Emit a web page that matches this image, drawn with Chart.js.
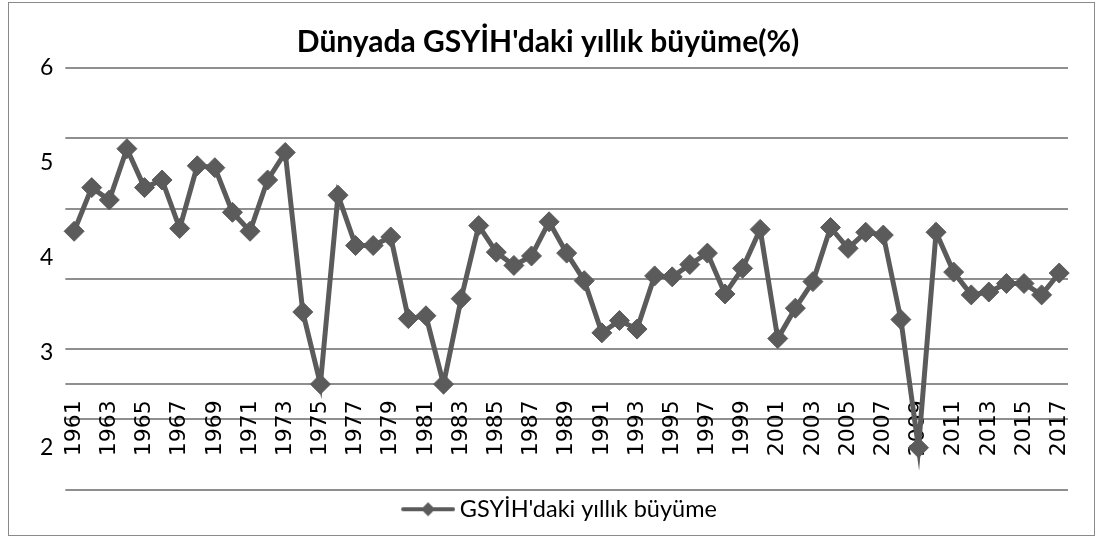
<!DOCTYPE html>
<html>
<head>
<meta charset="utf-8">
<script src="https://cdn.jsdelivr.net/npm/chart.js@4/dist/chart.umd.min.js"></script>
<style>
  body { margin: 0; background: #fff; }
  #wrap { position: relative; width: 1096px; height: 536px; }
  #frame { position: absolute; left: 8px; top: 2px; width: 1085px; height: 532px; border: 1px solid #8a8a8a; pointer-events: none; }
</style>
</head>
<body>
<div id="wrap">
  <canvas id="grafik"></canvas>
  <div id="frame"></div>
</div>
<script>
// yillar ve buyume degerleri
const yillar = [];
for (let y = 1961; y <= 2017; y++) yillar.push(String(y));

const buyume = [
  4.28, 4.74, 4.61, 5.15, 4.74, 4.82, 4.31, 4.97, 4.95, 4.48,
  4.28, 4.82, 5.11, 3.43, 2.67, 4.66, 4.13, 4.13, 4.22, 3.36,
  3.39, 2.67, 3.57, 4.34, 4.06, 3.92, 4.02, 4.38, 4.05, 3.76,
  3.21, 3.34, 3.25, 3.81, 3.80, 3.93, 4.05, 3.62, 3.89, 4.30,
  3.15, 3.47, 3.75, 4.32, 4.10, 4.27, 4.24, 3.35, 2.00, 4.27,
  3.85, 3.61, 3.64, 3.73, 3.73, 3.61, 3.84
];

const yEtiketleri = [6, 5, 4, 3, 2];
const cizgiDegerleri = [8, 7, 6, 5, 4, 3.5, 3, 2];

const gri = '#5b5b5b';

// lejant simgesi: cizgi + elmas (sol tarafi bos, simge saga yasli)
const simge = document.createElement('canvas');
simge.width = 83;
simge.height = 20;
const sc = simge.getContext('2d');
sc.strokeStyle = gri;
sc.lineWidth = 4;
sc.lineCap = 'round';
sc.beginPath();
sc.moveTo(31, 10);
sc.lineTo(81, 10);
sc.stroke();
sc.fillStyle = gri;
sc.beginPath();
sc.moveTo(56, 3);
sc.lineTo(63, 10);
sc.lineTo(56, 17);
sc.lineTo(49, 10);
sc.closePath();
sc.fill();

const ctx = document.getElementById('grafik').getContext('2d');
new Chart(ctx, {
  type: 'line',
  data: {
    labels: yillar,
    datasets: [{
      label: "GSYİH'daki yıllık büyüme",
      data: buyume,
      yAxisID: 'y',
      borderColor: gri,
      backgroundColor: gri,
      borderWidth: 5,
      pointStyle: 'rectRot',
      pointRadius: 10,
      pointBorderWidth: 1,
      pointBackgroundColor: gri,
      pointBorderColor: gri,
      tension: 0
    }]
  },
  options: {
    responsive: true,
    maintainAspectRatio: false,
    animation: false,
    layout: { padding: { left: 28, right: 28, top: 0, bottom: 5 } },
    plugins: {
      title: {
        display: true,
        text: "Dünyada GSYİH'daki yıllık büyüme(%)",
        color: '#000',
        font: { family: 'Lato', size: 30, weight: 'bold' },
        padding: { top: 24, bottom: 8 }
      },
      legend: {
        position: 'bottom',
        labels: {
          usePointStyle: true,
          pointStyle: simge,
          pointStyleWidth: 69,
          color: '#000',
          font: { family: 'Lato', size: 23.5 },
          padding: 8
        }
      },
      tooltip: { enabled: false }
    },
    scales: {
      x: {
        type: 'category',
        position: { y: 2.5 },
        offset: true,
        z: 1,
        grid: { display: false, drawTicks: false },
        border: { display: false },
        ticks: {
          autoSkip: false,
          minRotation: 90,
          maxRotation: 90,
          padding: 0,
          color: '#000',
          font: { family: 'DejaVu Sans', size: 22 },
          callback: function (v, i) { return i % 2 === 0 ? this.getLabelForValue(v) : ''; }
        }
      },
      y: {
        position: 'left',
        min: 1.56,
        max: 6,
        grid: { display: false, drawTicks: false },
        border: { display: false },
        afterBuildTicks: (ax) => { ax.ticks = yEtiketleri.map(v => ({ value: v })); },
        ticks: {
          padding: 12,
          color: '#000',
          font: { family: 'Lato', size: 23 }
        }
      },
      g: {
        position: 'right',
        min: 2,
        max: 8,
        grid: { color: '#8f8f8f', lineWidth: 2, drawTicks: false },
        border: { display: false },
        afterBuildTicks: (ax) => { ax.ticks = cizgiDegerleri.map(v => ({ value: v })); },
        ticks: { display: false }
      }
    }
  }
});
</script>
</body>
</html>
